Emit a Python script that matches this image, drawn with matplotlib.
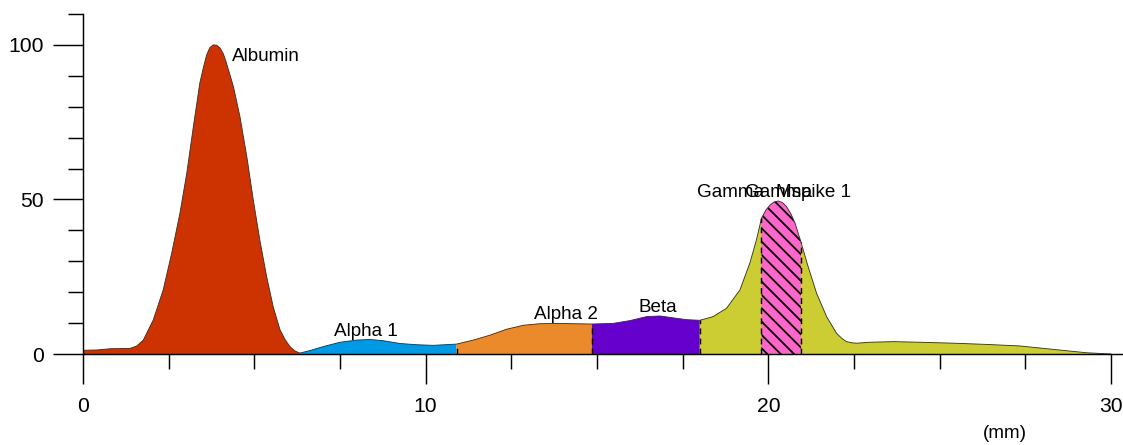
import numpy as np
import matplotlib
matplotlib.use("Agg")
import matplotlib.pyplot as plt
from matplotlib.ticker import MultipleLocator

##### DATA #####
# densitogram trace, position in mm and relative intensity
pos_mm = [0.0, 0.4, 0.8, 1.37, 1.57, 1.76, 2.05, 2.34, 2.59, 2.83, 3.03, 3.22,
          3.41, 3.52, 3.61, 3.70, 3.80, 3.90, 4.00, 4.10, 4.19, 4.39, 4.58, 4.78, 4.97,
          5.16, 5.36, 5.55, 5.75, 5.90, 6.04, 6.18, 6.33, 6.62, 7.01, 7.50, 7.99, 8.37, 8.76,
          9.25, 9.74, 10.22, 10.90, 11.39, 11.88, 12.36, 12.85, 13.34, 13.82,
          14.31, 14.85, 15.47, 15.96, 16.45, 16.84, 17.22, 17.62, 18.00, 18.39,
          18.78, 19.17, 19.46, 19.65, 19.80, 19.93, 20.05, 20.17, 20.29, 20.41, 20.53,
          20.66, 20.78, 20.95, 21.16, 21.41, 21.70, 21.99, 22.15, 22.28, 22.45, 22.58,
          22.97, 23.65, 24.42, 25.40, 26.37, 27.34, 28.31, 29.29, 30.00]
intensity = [1.2, 1.3, 1.7, 1.8, 2.6, 4.5, 11.0, 20.7, 32.7, 45.6, 58.6, 73.5,
             87.7, 93.0, 96.8, 99.1, 100.0, 99.9, 99.0, 97.0, 94.0, 86.5, 76.8, 63.9, 49.8,
             36.9, 25.0, 15.3, 7.8, 4.6, 2.4, 1.0, 0.3, 1.1, 2.4, 3.8, 4.5, 4.7, 4.3,
             3.4, 3.0, 2.8, 3.2, 4.5, 6.1, 8.0, 9.3, 9.8, 9.9,
             9.8, 9.7, 9.9, 10.8, 12.1, 12.3, 11.7, 11.1, 10.9, 12.1,
             14.8, 20.7, 29.4, 36.8, 43.9, 46.6, 48.2, 49.2, 49.5, 49.0, 47.7,
             45.3, 42.3, 36.3, 28.3, 19.6, 12.1, 6.7, 5.0, 4.0, 3.6, 3.5,
             3.8, 4.0, 3.8, 3.5, 3.1, 2.6, 1.5, 0.4, 0.0]

fractions = ["Albumin", "Alpha 1", "Alpha 2", "Beta", "Gamma"]
frac_start = [0.0, 6.33, 10.90, 14.85, 18.00]
frac_end = [6.33, 10.90, 14.85, 18.00, 30.00]
frac_colors = ["#cc3300", "#0099e6", "#eb8a2a", "#6600cc", "#cccc33"]

spike_name = "Mspike 1"
spike_start = 19.80
spike_end = 20.95

# label text and anchor (x, y, alignment)
label_text = ["Albumin", "Alpha 1", "Alpha 2", "Beta", "Gamma", "Gamma", "Mspike 1"]
label_x = [4.34, 8.26, 14.09, 16.76, 17.92, 19.32, 20.22]
label_y = [94.8, 5.8, 11.2, 13.7, 50.8, 50.8, 50.8]
label_ha = ["left", "center", "center", "center", "left", "left", "left"]

##### PLOT #####
DPI = 80
plt.rcParams["font.family"] = ["Liberation Sans", "DejaVu Sans"]
plt.rcParams["hatch.linewidth"] = 1.6

x = np.array(pos_mm)
y = np.array(intensity)

fig = plt.figure(figsize=(1123 / DPI, 445 / DPI), dpi=DPI)
ax = fig.add_axes([83 / 1123, 91 / 445, 1040 / 1123, 340 / 445])

for name, lo, hi, col in zip(fractions, frac_start, frac_end, frac_colors):
    m = (x >= lo - 1e-9) & (x <= hi + 1e-9)
    ax.fill_between(x[m], 0, y[m], facecolor=col, edgecolor="none", linewidth=0, zorder=1)

m = (x >= spike_start - 1e-9) & (x <= spike_end + 1e-9)
ax.fill_between(x[m], 0, y[m], facecolor="#ff66cc", edgecolor="black", linewidth=0,
                hatch="\\\\", zorder=2)

ax.plot(x, y, color="#333333", linewidth=0.8, zorder=3)

# dashed separators between fractions
for b in frac_start[2:] + [spike_start, spike_end]:
    ax.plot([b, b], [0, np.interp(b, x, y)], color="black", linewidth=1.3,
            linestyle=(0, (4, 3)), zorder=4)

for t, tx, ty, ha in zip(label_text, label_x, label_y, label_ha):
    ax.text(tx, ty, t, ha=ha, va="baseline", fontsize=17, color="black", zorder=5)

ax.set_xlim(0, 30.35)
ax.set_ylim(0, 110)
for s in ["top", "right"]:
    ax.spines[s].set_visible(False)
for s in ["left", "bottom"]:
    ax.spines[s].set_linewidth(1.3)
    ax.spines[s].set_zorder(6)

ax.xaxis.set_major_locator(MultipleLocator(10))
ax.xaxis.set_minor_locator(MultipleLocator(2.5))
ax.yaxis.set_major_locator(MultipleLocator(50))
ax.yaxis.set_minor_locator(MultipleLocator(10))
ax.tick_params(which="major", direction="out", length=27, width=1.3, labelsize=19, pad=8)
ax.tick_params(which="minor", direction="out", length=13.5, width=1.3)
ax.tick_params(axis="x", which="major", pad=12)

ax.set_xlabel("(mm)", fontsize=17)
ax.xaxis.set_label_coords(0.8865, -0.21)

fig.savefig("out.png", dpi=DPI)
